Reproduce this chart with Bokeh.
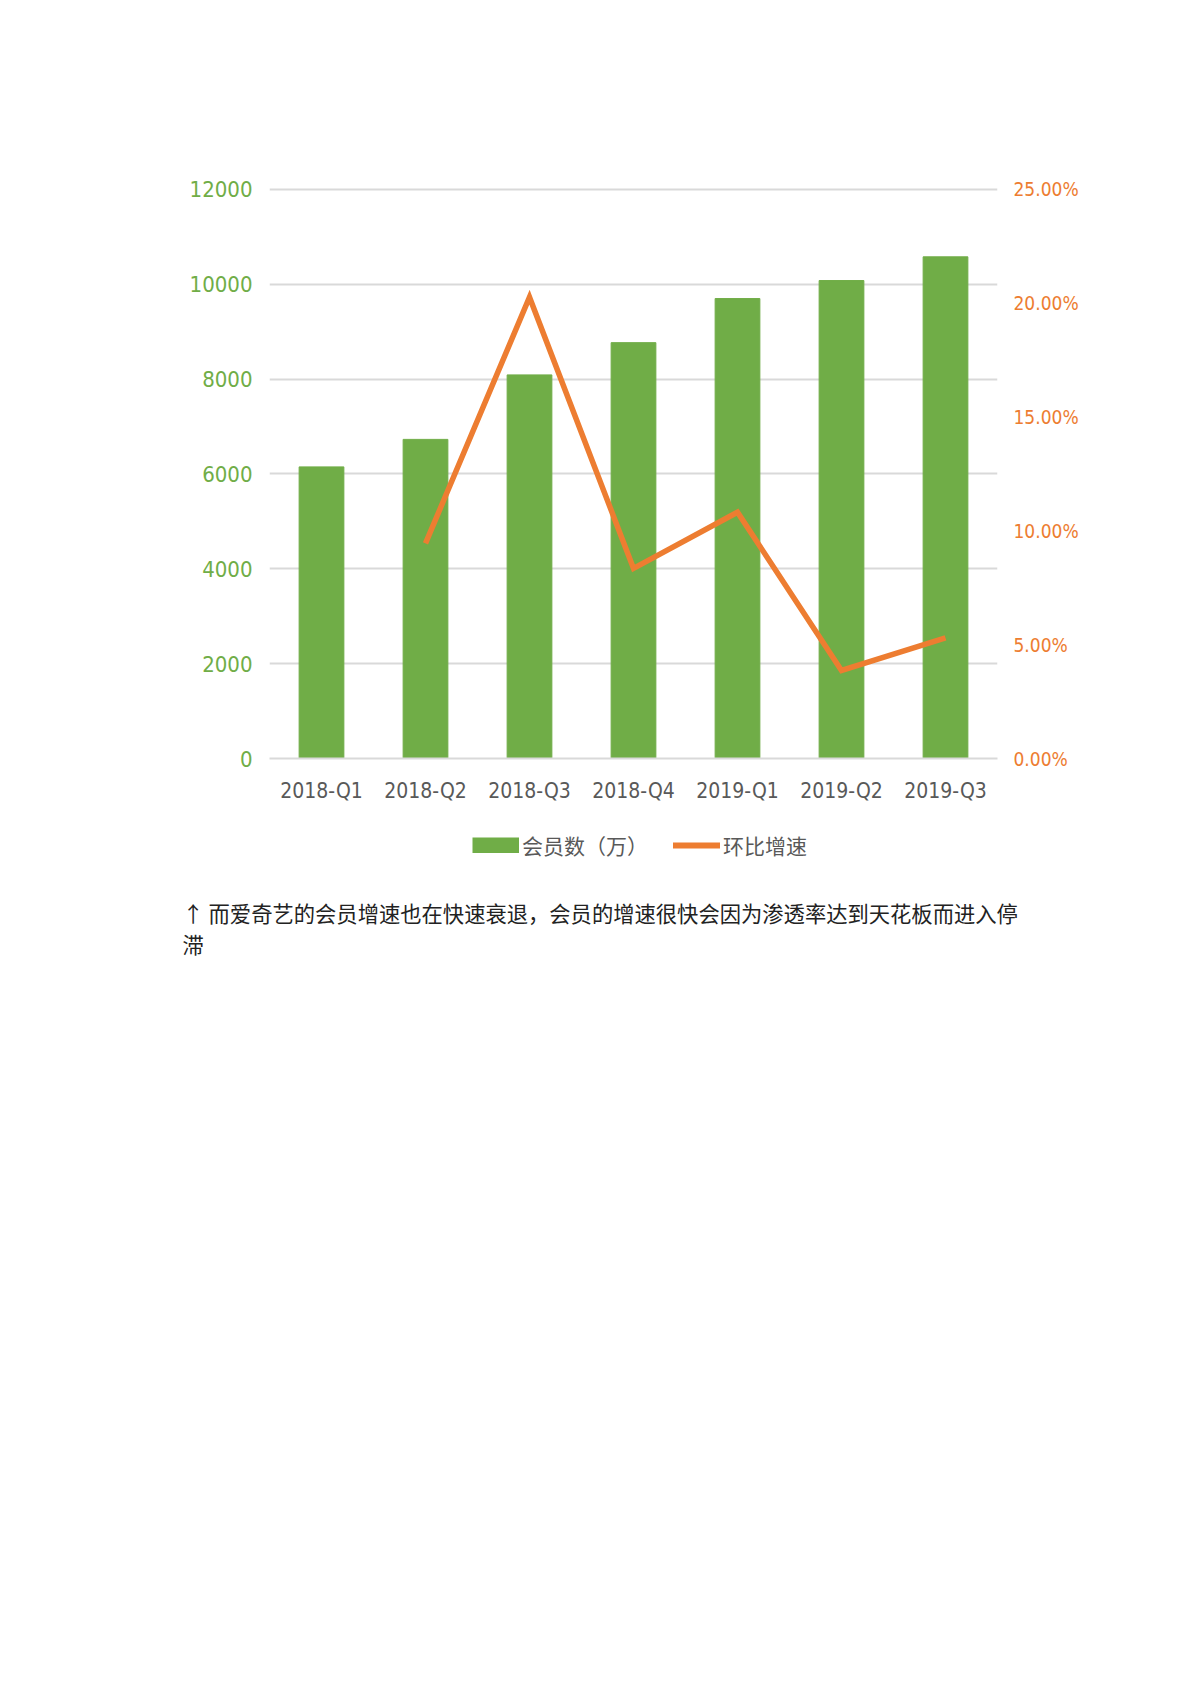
from bokeh.plotting import figure
from bokeh.layouts import column
from bokeh.models import (Range1d, LinearAxis, NumeralTickFormatter, FixedTicker,
                          Legend, LegendItem)
from bokeh.core.properties import value
from bokeh.embed import file_html
from bokeh.resources import INLINE

# ---- data ----
categories = ["2018-Q1", "2018-Q2", "2018-Q3", "2018-Q4", "2019-Q1", "2019-Q2", "2019-Q3"]
members = [6150, 6730, 8090, 8770, 9700, 10080, 10580]
growth_categories = ["2018-Q2", "2018-Q3", "2018-Q4", "2019-Q1", "2019-Q2", "2019-Q3"]
growth = [0.0945, 0.2027, 0.0835, 0.1082, 0.0387, 0.0530]
left_ticks = [0, 2000, 4000, 6000, 8000, 10000, 12000]
right_ticks = [0.0, 0.05, 0.10, 0.15, 0.20, 0.25]
bar_label = "会员数（万）"
line_label = "环比增速"
caption_lines = ["↑ 而爱奇艺的会员增速也在快速衰退，会员的增速很快会因为渗透率达到天花板而进入停", "滞"]

GREEN = "#70AD47"
ORANGE = "#ED7D31"
GRID = "#D9D9D9"
GRAY = "#595959"
LATIN = "DejaVu Sans Condensed, Liberation Sans"
CJK = "Noto Sans CJK SC"

# small headroom so the top gridline is not clipped
pad = 1.0035
p = figure(x_range=categories, y_range=Range1d(0, 12000 * pad),
           frame_width=728, frame_height=571,
           min_border_left=269, min_border_right=187,
           min_border_top=187, min_border_bottom=45,
           output_backend="svg", toolbar_location=None,
           outline_line_color=None, background_fill_color="white",
           border_fill_color="white", frame_align=False)
p.extra_y_ranges = {"pct": Range1d(0, 0.25 * pad)}

bars = p.vbar(x=categories, top=members, width=0.43, fill_color=GREEN, line_color=GREEN)
line = p.line(x=growth_categories, y=growth, y_range_name="pct",
              line_color=ORANGE, line_width=5.5, line_join="miter")

# left axis
ya = p.yaxis[0]
ya.ticker = FixedTicker(ticks=left_ticks)
ya.axis_line_color = None
ya.major_tick_line_color = None
ya.minor_tick_line_color = None
ya.major_label_text_color = GREEN
ya.major_label_text_font = LATIN
ya.major_label_text_font_size = "22px"
ya.major_label_standoff = 11

# right axis
ra = LinearAxis(y_range_name="pct", ticker=FixedTicker(ticks=right_ticks),
                formatter=NumeralTickFormatter(format="0.00%"))
ra.axis_line_color = None
ra.major_tick_line_color = None
ra.minor_tick_line_color = None
ra.major_label_text_color = ORANGE
ra.major_label_text_font = LATIN
ra.major_label_text_font_size = "19px"
ra.major_label_standoff = 10
p.add_layout(ra, "right")

# x axis
xa = p.xaxis[0]
xa.axis_line_color = GRID
xa.axis_line_width = 2
xa.major_tick_line_color = None
xa.minor_tick_line_color = None
xa.major_label_text_color = GRAY
xa.major_label_text_font = LATIN
xa.major_label_text_font_size = "21px"
xa.major_label_standoff = 14

# grid
p.xgrid.grid_line_color = None
p.ygrid.ticker = FixedTicker(ticks=left_ticks)
p.ygrid.grid_line_color = GRID
p.ygrid.grid_line_width = 2

# ---- lower panel: legend and caption ----
H2 = 200
q = figure(width=1184, height=H2, x_range=Range1d(0, 1184), y_range=Range1d(H2, 0),
           min_border=0, title=None, output_backend="svg", toolbar_location=None,
           x_axis_location=None, y_axis_location=None,
           outline_line_color=None, background_fill_color="white",
           border_fill_color="white", frame_align=False)
q.grid.visible = False

# legend proxies (no visible marks; they only carry the styles for the legend swatches)
nan = float("nan")
lb = q.line(x=[nan], y=[nan], line_color=GREEN, line_width=16, line_cap="butt")
ll = q.line(x=[nan], y=[nan], line_color=ORANGE, line_width=6, line_cap="round")

legend = Legend(items=[LegendItem(label=bar_label, renderers=[lb]),
                       LegendItem(label=line_label, renderers=[ll])],
                orientation="horizontal", location=(472, 145),
                glyph_width=47, glyph_height=16, label_standoff=3, spacing=25,
                padding=0, margin=0, border_line_color=None,
                background_fill_alpha=0,
                label_text_font=CJK, label_text_font_size="21px",
                label_text_color=GRAY)
q.add_layout(legend)

q.text(x=[182, 182], y=[107, 138], text=caption_lines,
       text_font=value(CJK), text_font_size="21.3px", text_color="#222222",
       text_baseline="middle", text_align="left")

layout = column(p, q, spacing=0)
open("out.html", "w").write(file_html(layout, INLINE))
